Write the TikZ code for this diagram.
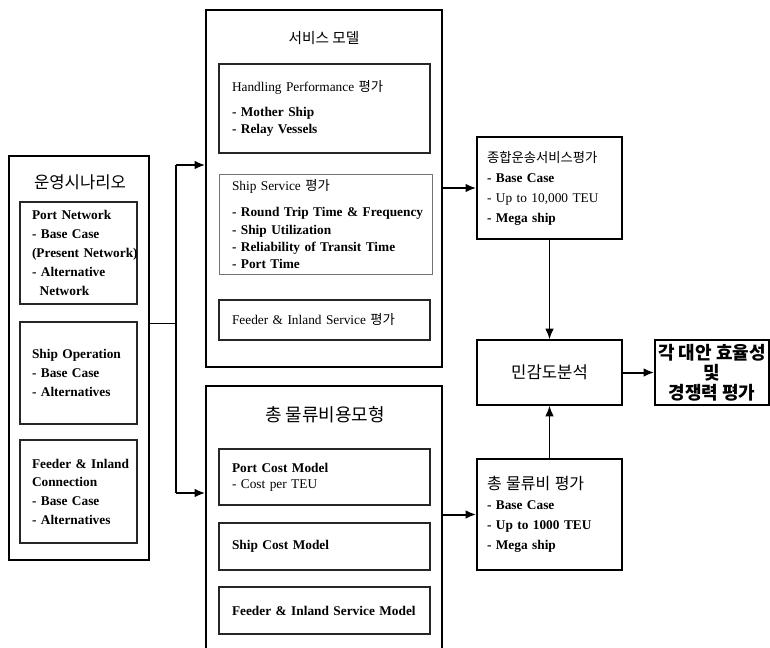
\documentclass[tikz,border=0pt]{standalone}
\usepackage{fontspec}
\setmainfont{Liberation Serif}
\newfontfamily\kr{Noto Sans CJK KR}
\usetikzlibrary{arrows.meta}

\begin{document}
\begin{tikzpicture}[x=0.75pt, y=-0.75pt,
  outer/.style={draw, line width=1.1pt},
  inbox/.style={draw=black!85, line width=1pt, align=left, inner ysep=2pt},
  title/.style={font=\kr\fontsize{12}{14}\selectfont, inner sep=0pt},
  arr/.style={line width=1.5pt, -{Latex[length=8pt,width=6.5pt]}}]
  \useasboundingbox (0,0) rectangle (770,648);
  \clip (0,0) rectangle (770,648);

  % scenario column
  \node (scen) at (79,358) [outer, minimum width=105pt, minimum height=303pt] {};
  \node (scentitle) at (80,182) [title, font=\kr\fontsize{12.5}{14}\selectfont] {운영시나리오};
  \node (portnet) at (78.5,253)
        [inbox, minimum width=87.75pt, minimum height=76.5pt,
         text width=69.75pt, inner xsep=9pt,
         font=\bfseries\fontsize{10}{14.25}\selectfont]
     {Port Network\\- Base Case\\\mbox{(Present Network)}\\- Alternative\\\hspace*{5.8pt}Network};
  \node (shipop) at (78.5,373)
        [inbox, minimum width=87.75pt, minimum height=76.5pt,
         text width=69.75pt, inner xsep=9pt,
         font=\bfseries\fontsize{10}{14}\selectfont]
     {Ship Operation\\- Base Case\\- Alternatives};
  \node (feedcon) at (78.5,491.5)
        [inbox, minimum width=87.75pt, minimum height=77.25pt,
         text width=69.75pt, inner xsep=9pt,
         font=\bfseries\fontsize{10}{14}\selectfont]
     {\mbox{Feeder \& Inland}\\Connection\\- Base Case\\- Alternatives};

  % service model
  \node (svc) at (324,188.5) [outer, minimum width=177pt, minimum height=267.75pt] {};
  \node (svctitle) at (324,38) [title, font=\kr\fontsize{11}{13}\selectfont] {서비스 모델};
  \node (handling) at (324.5,108.5)
        [inbox, minimum width=158.25pt, minimum height=66.75pt,
         text width=138.75pt, inner xsep=9.75pt,
         font=\fontsize{10}{12.75}\selectfont]
     {Handling Performance {\kr 평가}\\[6pt]\textbf{- Mother Ship}\\\textbf{- Relay Vessels}};
  \node (shipsvc) at (325.5,224)
        [inbox, draw=black!55, line width=0.6pt, minimum width=159.75pt, minimum height=75pt,
         text width=140.25pt, inner xsep=9.75pt,
         font=\fontsize{10}{13}\selectfont]
     {Ship Service {\kr 평가}\\[7pt]\mbox{\textbf{- Round Trip Time \& Frequency}}\\\textbf{- Ship Utilization}\\
      \mbox{\textbf{- Reliability of Transit Time}}\\\textbf{- Port Time}};
  \node (feedsvc) at (324.5,320)
        [inbox, minimum width=158.25pt, minimum height=30pt,
         text width=138.75pt, inner xsep=9.75pt, font=\fontsize{10}{12}\selectfont]
     {Feeder \& Inland Service {\kr 평가}};

  % logistics cost model
  \node (cost) at (324,553) [outer, minimum width=177pt, minimum height=250.5pt] {};
  \node (costtitle) at (325,415) [title, font=\kr\fontsize{13.5}{15}\selectfont] {총 물류비용모형};
  \node (portcost) at (324.5,477)
        [inbox, minimum width=158.25pt, minimum height=42pt,
         text width=138.75pt, inner xsep=9.75pt, font=\fontsize{10}{12}\selectfont]
     {\textbf{Port Cost Model}\\- Cost per TEU};
  \node (shipcost) at (324.5,546.5)
        [inbox, minimum width=158.25pt, minimum height=35.25pt,
         text width=138.75pt, inner xsep=9.75pt, font=\bfseries\fontsize{10}{12}\selectfont]
     {Ship Cost Model};
  \node (feedcost) at (324.5,610.5)
        [inbox, minimum width=158.25pt, minimum height=35.25pt,
         text width=138.75pt, inner xsep=9.75pt, font=\bfseries\fontsize{10}{12}\selectfont]
     {\mbox{Feeder \& Inland Service Model}};

  % evaluation
  \node (total) at (549.5,188)
        [outer, minimum width=108.75pt, minimum height=76.5pt, align=left,
         text width=93.75pt, inner xsep=7.5pt, font=\fontsize{10}{15}\selectfont]
     {{\kr 종합운송서비스평가}\\\textbf{- Base Case}\\- Up to 10,000 TEU\\\textbf{- Mega ship}};
  \node (sens) at (549.5,372.5)
        [outer, minimum width=108.75pt, minimum height=48.75pt,
         font=\kr\fontsize{12.5}{14}\selectfont]
     {민감도분석};
  \node (eval) at (712,372.5)
        [outer, minimum width=85.5pt, minimum height=48.75pt, inner sep=0pt, align=center,
         font=\kr\bfseries\fontsize{13.5}{15}\selectfont]
     {각 대안 효율성\\및\\경쟁력 평가};
  \node (totalcost) at (549.5,514.5)
        [outer, minimum width=108.75pt, minimum height=83.25pt, align=left,
         text width=93.75pt, inner xsep=7.5pt, font=\bfseries\fontsize{10}{15}\selectfont]
     {{\kr\mdseries\fontsize{12}{15}\selectfont 총 물류비 평가}\\- Base Case\\- Up to 1000 TEU\\- Mega ship};

  \coordinate (split) at (176,323);
  \coordinate (up) at (176,165);
  \coordinate (dn) at (176,493);

  \draw[line width=0.6pt] (split -| scen.east) -- (split);
  \draw[line width=1.3pt] (up) -- (dn);
  \draw[arr] (up) -- (up -| svc.west);
  \draw[arr] (dn) -- (dn -| cost.west);
  \draw[arr] (svc.east |- total.west) -- (total.west);
  \draw[arr] (cost.east |- totalcost.west) -- (totalcost.west);
  \draw[arr, line width=1pt] (total.south) -- (sens.north);
  \draw[arr, line width=1pt] (totalcost.north) -- (sens.south);
  \draw[arr] (sens.east) -- (eval.west);
\end{tikzpicture}
\end{document}
